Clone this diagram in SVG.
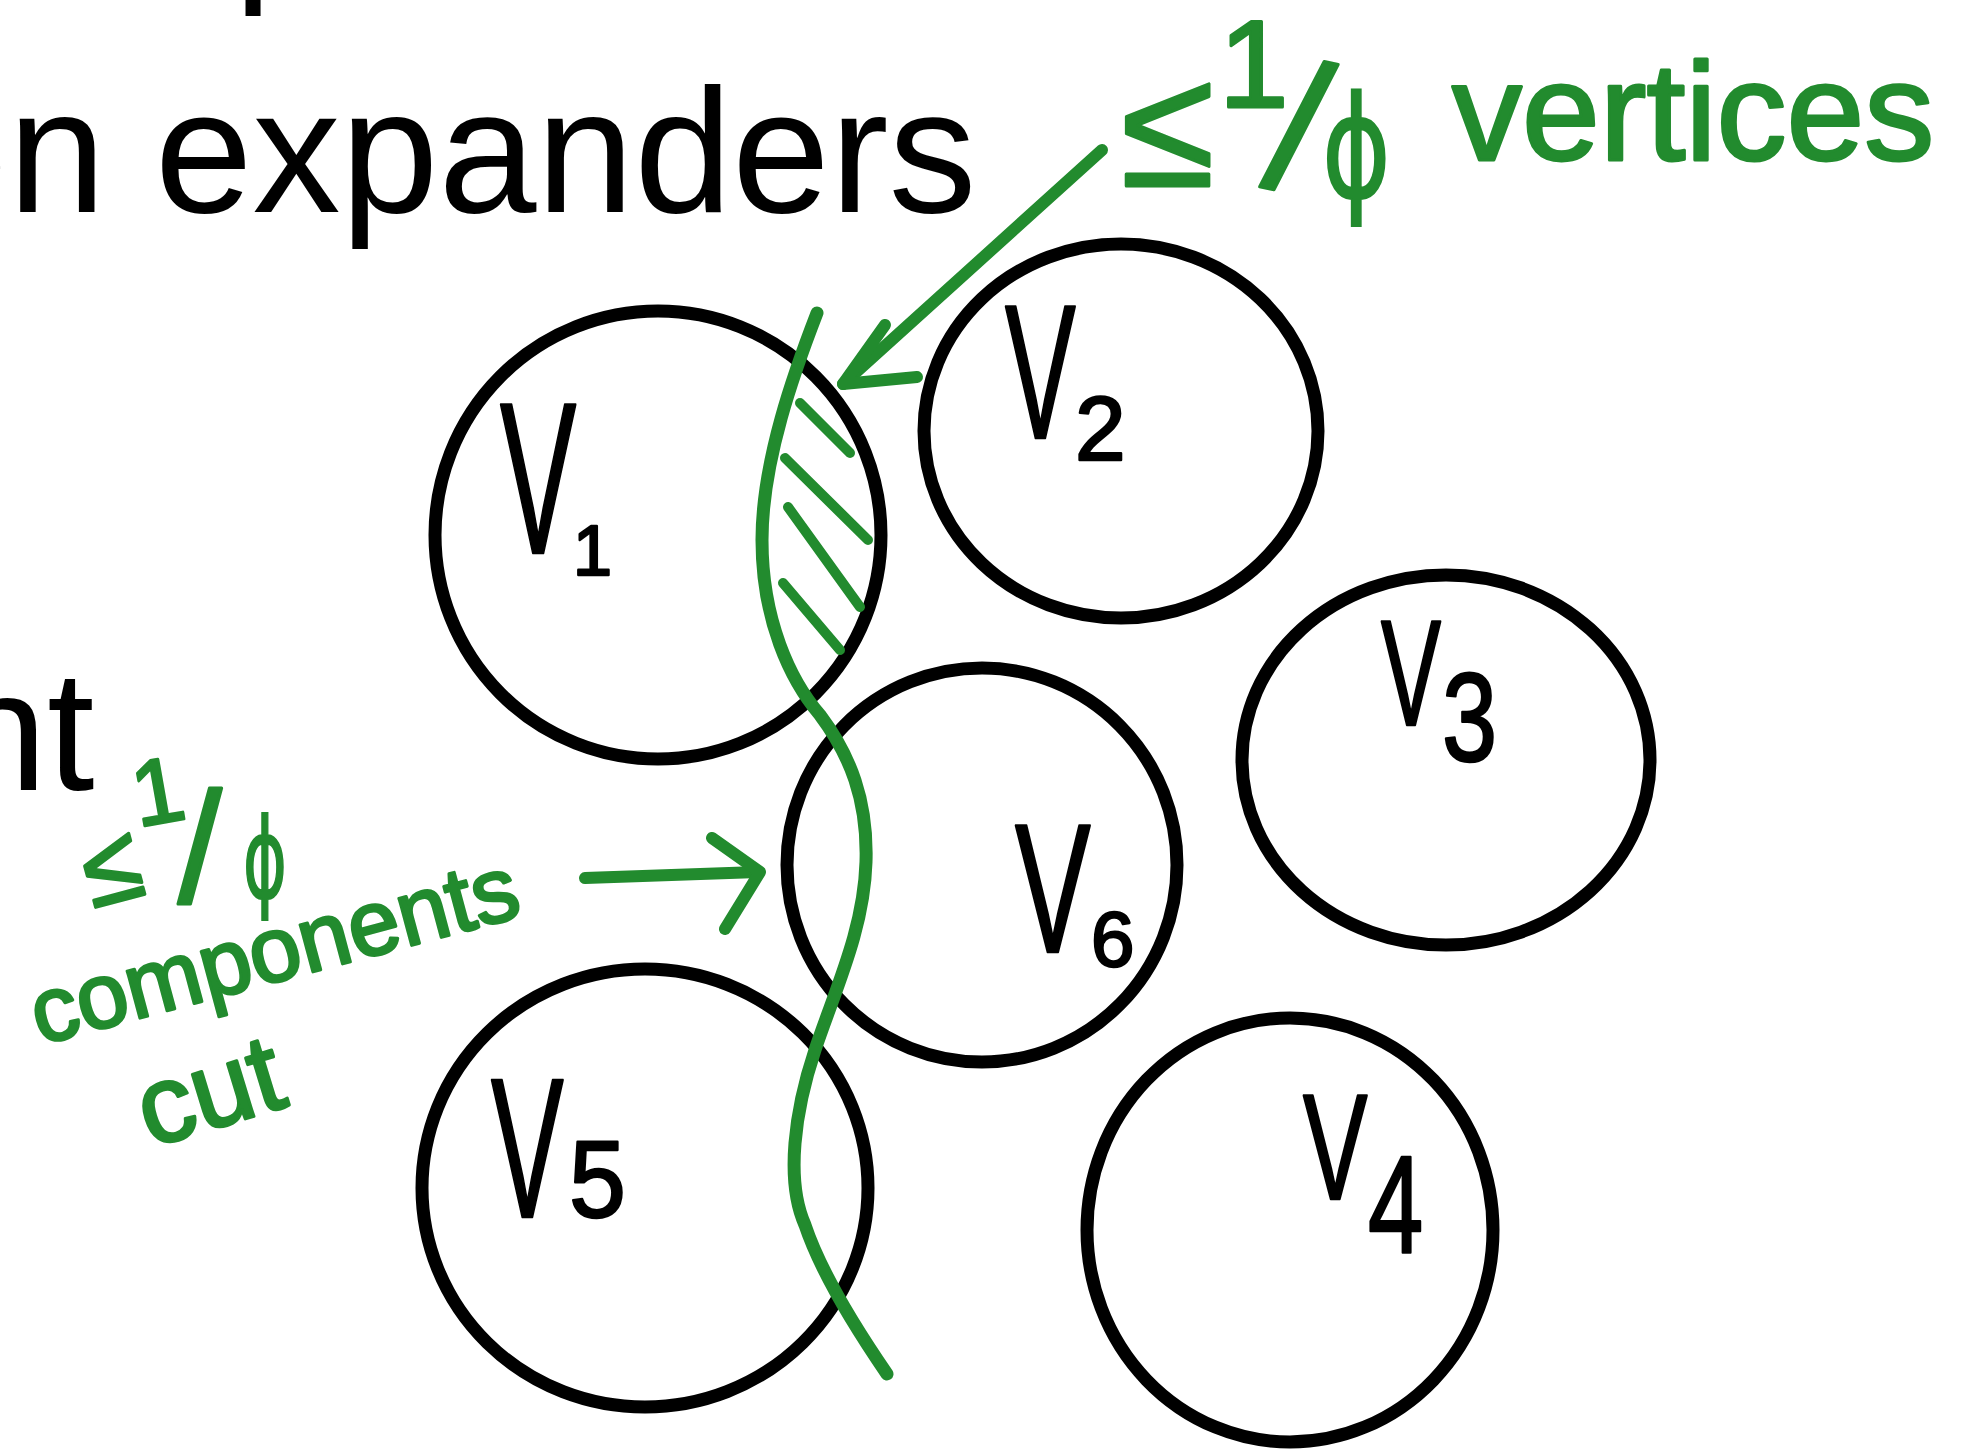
<svg xmlns="http://www.w3.org/2000/svg" width="1983" height="1452" viewBox="0 0 1983 1452">
<style>
  .slide { font-family: "Liberation Sans", Arial, sans-serif; fill: #000; }
  .node { fill: none; stroke: #000; stroke-width: 13; }
  .lbl { font-family: "Liberation Sans", Arial, sans-serif; fill: #000; stroke: #000; stroke-width: 2.5; stroke-linejoin: round; }
  .g { font-family: "Liberation Sans", Arial, sans-serif; fill: #228b2e; stroke: #228b2e; stroke-width: 3; stroke-linejoin: round; }
  .phi { font-family: "DejaVu Sans", "Liberation Sans", sans-serif; fill: #228b2e; stroke: #228b2e; stroke-width: 2; }
  .gl { fill: none; stroke: #228b2e; stroke-linecap: round; stroke-linejoin: round; }
</style>
<rect width="1983" height="1452" fill="#fff"/>

<g id="slide-text">
  <text class="slide" x="234" y="-19" font-size="171">p</text>
  <text class="slide" x="-90" y="212" font-size="176">en expanders</text>
  <text class="slide" x="-48" y="790" font-size="171">nt</text>
</g>

<g id="V1">
  <ellipse class="node" cx="658" cy="535" rx="223" ry="224"/>
  <text class="lbl" transform="translate(500,553) scale(0.53,1)" font-size="216">V</text>
  <text class="lbl" x="573" y="575" font-size="70">1</text>
</g>
<g id="V2">
  <ellipse class="node" cx="1121" cy="431" rx="197" ry="187"/>
  <text class="lbl" transform="translate(1005,438) scale(0.555,1)" font-size="191">V</text>
  <text class="lbl" x="1075" y="460" font-size="91">2</text>
</g>
<g id="V3">
  <ellipse class="node" cx="1446" cy="760" rx="204" ry="185"/>
  <text class="lbl" transform="translate(1381,725) scale(0.6,1)" font-size="150">V</text>
  <text class="lbl" transform="translate(1442,761) scale(0.78,1)" font-size="127">3</text>
</g>
<g id="V6">
  <ellipse class="node" cx="982" cy="865" rx="195" ry="197"/>
  <text class="lbl" transform="translate(1015,952) scale(0.62,1)" font-size="183">V</text>
  <text class="lbl" x="1091" y="966" font-size="78">6</text>
</g>
<g id="V5">
  <ellipse class="node" cx="645" cy="1188" rx="223" ry="219"/>
  <text class="lbl" transform="translate(491,1217) scale(0.55,1)" font-size="198">V</text>
  <text class="lbl" transform="translate(569,1217) scale(0.93,1)" font-size="110">5</text>
</g>
<g id="V4">
  <ellipse class="node" cx="1290" cy="1230" rx="203" ry="212"/>
  <text class="lbl" transform="translate(1303,1199) scale(0.64,1)" font-size="151">V</text>
  <text class="lbl" transform="translate(1368,1253) scale(0.71,1)" font-size="140">4</text>
</g>

<g id="connectors">
  <path class="gl" stroke-width="13" d="M 817 313 C 795 370, 762 460, 762 540 C 762 620, 790 680, 820 715 C 850 755, 868 800, 866 862 C 864 930, 835 990, 815 1050 C 795 1110, 785 1180, 805 1225 C 820 1270, 850 1320, 887 1374"/>
  <g class="gl" stroke-width="10">
    <line x1="800" y1="403" x2="850" y2="453"/>
    <line x1="785" y1="458" x2="868" y2="540"/>
    <line x1="788" y1="507" x2="860" y2="607"/>
    <line x1="783" y1="583" x2="840" y2="650"/>
  </g>
  <g class="gl" stroke-width="12">
    <path d="M 1102 150 L 843 384"/>
    <path d="M 885 325 L 843 384 L 917 377"/>
  </g>
  <g class="gl" stroke-width="12">
    <path d="M 585 878 L 758 872"/>
    <path d="M 712 838 L 760 872 L 725 929"/>
  </g>
</g>

<g id="label-vertices">
  <text class="g" x="1121" y="186" font-size="170">≤</text>
  <text class="g" x="1219" y="107" font-size="125">1</text>
  <text class="g" transform="translate(1260,185) rotate(12)" font-size="185">/</text>
  <text class="phi" transform="translate(1322,197) scale(0.74,1)" font-size="141">ϕ</text>
  <text class="g" x="1452" y="160" font-size="140">vertices</text>
</g>

<g id="label-components">
  <text class="g" transform="translate(112,870) rotate(-15)" text-anchor="middle" y="32" font-size="105">≤</text>
  <text class="g" transform="translate(138,827) rotate(-10)" font-size="92">1</text>
  <text class="g" x="178" y="902" font-size="157">/</text>
  <text class="phi" transform="translate(243,897) scale(0.6,1)" font-size="111">ϕ</text>
  <text class="g" transform="translate(40,1045) rotate(-15)" font-size="92">components</text>
  <text class="g" transform="translate(150,1148) rotate(-17)" font-size="110">cut</text>
</g>
</svg>
